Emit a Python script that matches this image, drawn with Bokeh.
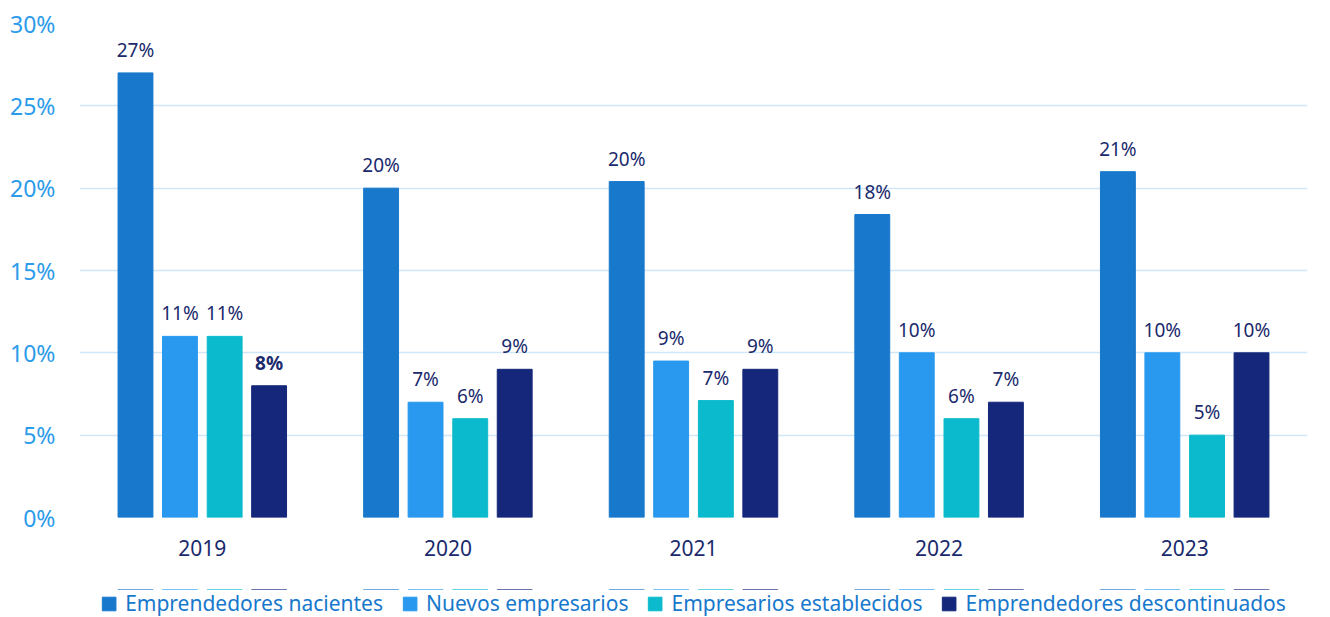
from bokeh.plotting import figure
from bokeh.layouts import column
from bokeh.models import ColumnDataSource, FactorRange, Legend, LegendItem, FixedTicker, Range1d
from bokeh.transform import dodge
from bokeh.core.properties import value
from bokeh.embed import file_html
from bokeh.resources import INLINE

years = ["2019", "2020", "2021", "2022", "2023"]
series_names = ["Emprendedores nacientes", "Nuevos empresarios", "Empresarios establecidos", "Emprendedores descontinuados"]
nacientes = [27, 20, 20.4, 18.4, 21]
nuevos = [11, 7, 9.5, 10, 10]
establecidos = [11, 6, 7.1, 6, 5]
descontinuados = [8, 9, 9, 7, 10]
labels_nacientes = ["27%", "20%", "20%", "18%", "21%"]
labels_nuevos = ["11%", "7%", "9%", "10%", "10%"]
labels_establecidos = ["11%", "6%", "7%", "6%", "5%"]
labels_descontinuados = ["8%", "9%", "9%", "7%", "10%"]
y_ticks = [0, 5, 10, 15, 20, 25, 30]
y_tick_labels = ["0%", "5%", "10%", "15%", "20%", "25%", "30%"]

colors = ["#1778cc", "#2899ee", "#0bbacc", "#15277a"]
offsets = [-0.272, -0.091, 0.091, 0.272]
FONT = "Noto Sans"

p = figure(x_range=FactorRange(*years, range_padding=0), y_range=(0, 30),
           width=1330, height=589, output_backend="svg", toolbar_location=None,
           min_border_left=79, min_border_right=23, min_border_top=23,
           min_border_bottom=72)
p.outline_line_color = None
p.background_fill_color = "white"

# legend strip below the chart (its bars lie outside its y-range; only the legend shows)
lf = figure(width=1330, height=28, x_range=FactorRange(*years, range_padding=0),
            y_range=Range1d(-2, -1), output_backend="svg", toolbar_location=None, min_border=0)
lf.axis.visible = False
lf.grid.grid_line_color = None
lf.outline_line_color = None

all_vals = [nacientes, nuevos, establecidos, descontinuados]
all_labels = [labels_nacientes, labels_nuevos, labels_establecidos, labels_descontinuados]
items = []
for k in range(4):
    src = ColumnDataSource(dict(
        year=years, val=all_vals[k], lab=all_labels[k],
        style=["bold" if (k == 3 and i == 0) else "normal" for i in range(5)]))
    p.vbar(x=dodge("year", offsets[k], range=p.x_range), top="val", width=0.142,
           source=src, color=colors[k], line_color=colors[k])
    p.text(x=dodge("year", offsets[k], range=p.x_range), y="val", text="lab", source=src,
           text_align="center", text_baseline="bottom", y_offset=-10,
           text_font=value(FONT), text_font_size="19px", text_color="#1a2a6c",
           text_font_style="style")
    r = lf.vbar(x=dodge("year", offsets[k], range=lf.x_range), top="val", width=0.142,
                source=src, color=colors[k], line_color=colors[k])
    items.append(LegendItem(label=series_names[k], renderers=[r]))

p.yaxis.ticker = FixedTicker(ticks=y_ticks)
p.yaxis.major_label_overrides = {t: l for t, l in zip(y_ticks, y_tick_labels)}
p.yaxis.axis_line_color = None
p.yaxis.major_tick_line_color = None
p.yaxis.minor_tick_line_color = None
p.yaxis.major_tick_out = 0
p.yaxis.minor_tick_out = 0
p.yaxis.major_label_text_color = "#2b9bea"
p.yaxis.major_label_text_font = FONT
p.yaxis.major_label_text_font_size = "23px"
p.yaxis.major_label_standoff = 24

p.xaxis.axis_line_color = None
p.xaxis.major_tick_line_color = None
p.xaxis.major_tick_out = 0
p.xaxis.minor_tick_out = 0
p.xaxis.major_label_text_color = "#1a2a6c"
p.xaxis.major_label_text_font = FONT
p.xaxis.major_label_text_font_size = "21px"
p.xaxis.major_label_standoff = 22

p.xgrid.grid_line_color = None
p.ygrid.grid_line_color = "#cfe7f7"
p.ygrid.grid_line_width = 1.5

legend = Legend(items=items, orientation="horizontal", location="center",
                label_text_color="#1778cc", label_text_font=FONT, label_text_font_size="21px",
                glyph_width=17, glyph_height=17, spacing=18, label_standoff=8,
                border_line_color=None, background_fill_alpha=0, padding=0, margin=0)
lf.add_layout(legend, "center")

layout = column(p, lf, spacing=0)
open("out.html", "w").write(file_html(layout, INLINE))
